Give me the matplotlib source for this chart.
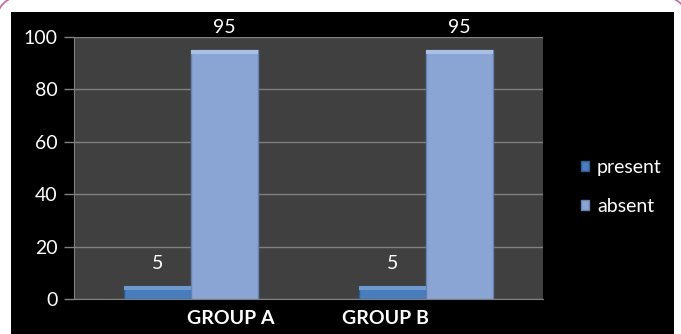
import matplotlib.pyplot as plt
import numpy as np
from matplotlib.patches import Rectangle
from matplotlib.lines import Line2D
from matplotlib.transforms import IdentityTransform

groups = ["GROUP A", "GROUP B"]
present = [5, 5]
absent = [95, 95]

W, H = 681, 334
fig = plt.figure(figsize=(W / 100, H / 100), dpi=100)
fig.patch.set_facecolor("white")
plt.rcParams["font.family"] = ["Lato", "DejaVu Sans"]

# black chart panel (pixel units)
fig.patches.append(Rectangle((11, 0), 674 - 11, H - 12,
                             transform=IdentityTransform(), facecolor="black",
                             edgecolor="none", zorder=-2))

# bits of the rounded pink page frame peeking out at the top corners
t = np.linspace(0, np.pi / 2, 40)
for cx, sx in ((19, -1), (665, 1)):
    fig.lines.append(Line2D(cx + sx * 22 * np.cos(t), H - 19 + 22 * np.sin(t),
                            transform=IdentityTransform(), color="#c467a8",
                            linewidth=1.2, zorder=-1))

ax = fig.add_axes([74 / W, (H - 299) / H, (543 - 74) / W, (299 - 37) / H])
ax.set_facecolor("#404040")

x = np.arange(len(groups))
w = 0.285
b1 = ax.bar(x - w / 2, present, w, color="#4a7dbc", edgecolor="#2f5a8f",
            linewidth=1.0, zorder=3, label="present")
b2 = ax.bar(x + w / 2, absent, w, color="#8aa5d4", edgecolor="#6882b0",
            linewidth=1.0, zorder=3, label="absent")

# lighter bevel on top of each bar
for bars, hi in ((b1, "#6f9ad0"), (b2, "#a9c0e6")):
    for r in bars:
        ax.add_patch(Rectangle((r.get_x(), r.get_height() - 1.4), r.get_width(), 1.4,
                               facecolor=hi, edgecolor="none", zorder=4))

for bars, vals in ((b1, present), (b2, absent)):
    for r, v in zip(bars, vals):
        ax.annotate(str(v), (r.get_x() + r.get_width() / 2, v),
                    xytext=(0, 16), textcoords="offset points",
                    ha="center", va="center", color="white", fontsize=14,
                    annotation_clip=False)

ax.set_xlim(-0.5, 1.5)
ax.set_ylim(0, 100)
ax.set_yticks(range(0, 101, 20))
ax.yaxis.grid(True, color="#808080", linewidth=1.0, zorder=1)
ax.set_axisbelow(True)

ax.set_xticks([0.167, 0.829])
ax.set_xticklabels(groups, fontweight="bold", fontsize=14, color="white")
ax.tick_params(axis="x", length=0, pad=8)
ax.tick_params(axis="y", length=7, color="#808080", labelcolor="white",
               labelsize=14, pad=5, width=1)

for side in ("top", "right"):
    ax.spines[side].set_visible(False)
for side in ("left", "bottom"):
    ax.spines[side].set_color("#808080")

leg = fig.legend(handles=[b1, b2], loc="center left",
                 bbox_to_anchor=(563 / W, (H - 187) / H), frameon=False,
                 handlelength=0.45, handleheight=0.45, handletextpad=0.4,
                 labelspacing=1.15, fontsize=14)
for txt in leg.get_texts():
    txt.set_color("white")

fig.savefig("out.png", dpi=100, facecolor=fig.get_facecolor())
